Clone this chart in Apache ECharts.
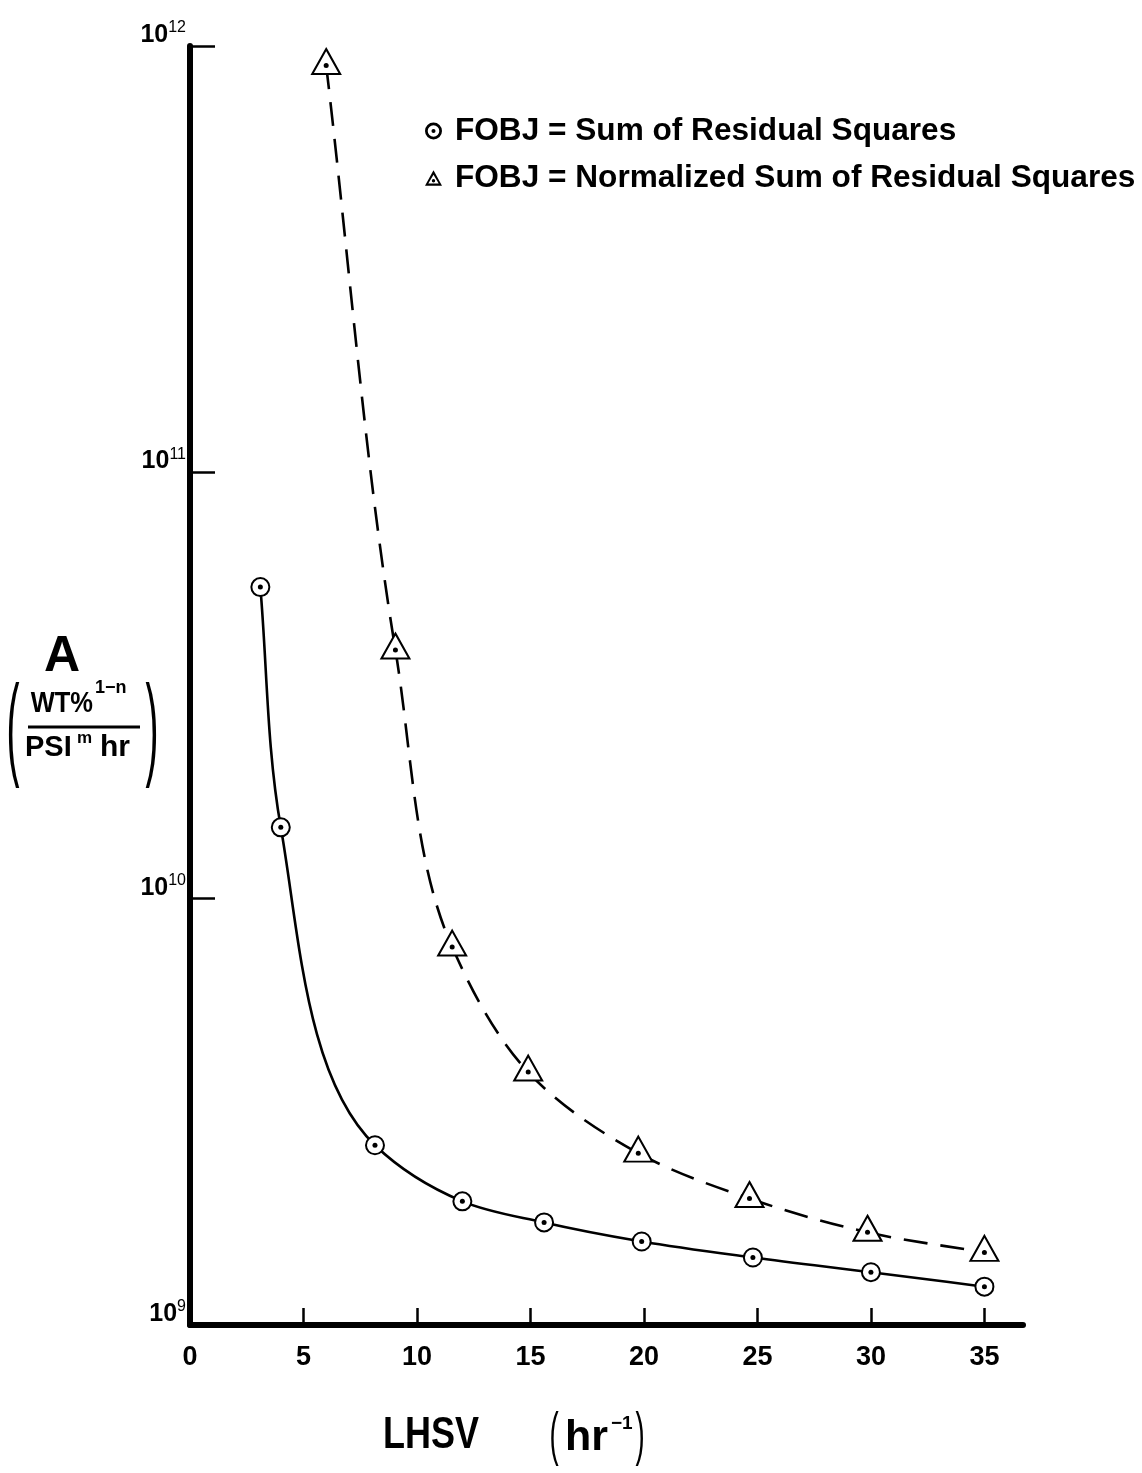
<!DOCTYPE html>
<html><head><meta charset="utf-8">
<script src="https://cdn.jsdelivr.net/npm/echarts@6.0.0/dist/echarts.min.js"></script>
<style>html,body{margin:0;padding:0;background:#fff}#c{width:1142px;height:1473px}</style>
</head><body><div id="c"></div>
<script>
// ---- data ----
const xTickValues = [5, 10, 15, 20, 25, 30, 35];
const xLabelValues = [0, 5, 10, 15, 20, 25, 30, 35];
const sumX = [3.1, 4.0, 8.15, 12.0, 15.6, 19.9, 24.8, 30.0, 35.0];
const sumY = [5.38e10, 1.47e10, 2.64e9, 1.95e9, 1.74e9, 1.57e9, 1.44e9, 1.33e9, 1.23e9];
const normX = [6.0, 9.05, 11.55, 14.9, 19.75, 24.65, 29.85, 35.0];
const normY = [9.0e11, 3.83e10, 7.7e9, 3.92e9, 2.53e9, 1.98e9, 1.65e9, 1.48e9];
const seriesNames = ['FOBJ = Sum of Residual Squares', 'FOBJ = Normalized Sum of Residual Squares'];

const F = 'Liberation Sans, Arial, sans-serif';
const pairs = (xs, ys) => xs.map((x, i) => [x, ys[i]]);
const ringIcon = 'path://M10 0A10 10 0 1 1 10 20A10 10 0 1 1 10 0ZM10 3.2A6.8 6.8 0 1 0 10 16.8A6.8 6.8 0 1 0 10 3.2ZM10 7.6A2.4 2.4 0 1 1 10 12.4A2.4 2.4 0 1 1 10 7.6Z';
const triIcon = 'path://M10 0L20 18L0 18ZM10 5.2L3.9 15.6L16.1 15.6ZM10 10.2A2 2 0 1 1 10 14.2A2 2 0 1 1 10 10.2Z';

// non-uniform Catmull-Rom spline (drawn in pixel space through the library's coordinates)
function crSegments(pts, alpha) {
  const segs = [];
  const n = pts.length;
  const dist = (a, b) => Math.max(1e-6, Math.pow(Math.hypot(b[0] - a[0], b[1] - a[1]), alpha));
  for (let i = 0; i < n - 1; i++) {
    const p1 = pts[i], p2 = pts[i + 1];
    const p0 = i > 0 ? pts[i - 1] : [2 * p1[0] - p2[0], 2 * p1[1] - p2[1]];
    const p3 = i + 2 < n ? pts[i + 2] : [2 * p2[0] - p1[0], 2 * p2[1] - p1[1]];
    const d1 = dist(p0, p1), d2 = dist(p1, p2), d3 = dist(p2, p3);
    const c1 = [0, 1].map(k => (d1 * d1 * p2[k] - d2 * d2 * p0[k] + (2 * d1 * d1 + 3 * d1 * d2 + d2 * d2) * p1[k]) / (3 * d1 * (d1 + d2)));
    const c2 = [0, 1].map(k => (d3 * d3 * p1[k] - d2 * d2 * p3[k] + (2 * d3 * d3 + 3 * d3 * d2 + d2 * d2) * p2[k]) / (3 * d3 * (d3 + d2)));
    segs.push({x1: p1[0], y1: p1[1], cpx1: c1[0], cpy1: c1[1], cpx2: c2[0], cpy2: c2[1], x2: p2[0], y2: p2[1]});
  }
  return segs;
}
function curveRenderer(dash) {
  return function (params, api) {
    if (params.dataIndexInside !== 0) return null;
    const n = params.dataInsideLength;
    const pts = [];
    for (let i = 0; i < n; i++) pts.push(api.coord([api.value(0, i), api.value(1, i)]));
    return {
      type: 'group',
      children: crSegments(pts, 0.9).map(s => ({
        type: 'bezierCurve', shape: s,
        style: {stroke: '#000', lineWidth: 2.6, fill: 'none', lineDash: dash}
      }))
    };
  };
}

const chart = echarts.init(document.getElementById('c'), null, {renderer: 'canvas'});
chart.setOption({
  backgroundColor: '#fff',
  animation: false,
  grid: {left: 190, right: 119, top: 46, bottom: 148},
  legend: {
    orient: 'vertical', left: 420, top: 110, itemGap: 15,
    itemWidth: 17, itemHeight: 17, selectedMode: false,
    textStyle: {fontSize: 31.6, fontWeight: 'bold', fontFamily: F, color: '#000', padding: [0, 0, 0, 8]},
    data: [
      {name: seriesNames[0], icon: ringIcon, itemStyle: {color: '#000', borderWidth: 0, opacity: 1}},
      {name: seriesNames[1], icon: triIcon, itemStyle: {color: '#000', borderWidth: 0, opacity: 1}}
    ]
  },
  xAxis: {
    type: 'value', min: 0, max: 36.7, interval: 5,
    axisLine: {lineStyle: {color: '#000', width: 6}},
    axisTick: {inside: true, length: 17, customValues: xTickValues, lineStyle: {color: '#000', width: 2.5}},
    axisLabel: {customValues: xLabelValues, fontSize: 27, fontWeight: 'bold', fontFamily: F, color: '#000', margin: 19},
    splitLine: {show: false}
  },
  yAxis: {
    type: 'log', logBase: 10, min: 1e9, max: 1e12,
    axisLine: {lineStyle: {color: '#000', width: 6}},
    axisTick: {inside: true, length: 25, lineStyle: {color: '#000', width: 2.5}},
    minorTick: {show: false},
    splitLine: {show: false},
    axisLabel: {
      margin: 4, verticalAlign: 'bottom',
      formatter: v => '{b|10}{s|' + Math.round(Math.log10(v)) + '}',
      rich: {
        b: {fontSize: 25, fontWeight: 'bold', fontFamily: F, color: '#000', lineHeight: 22},
        s: {fontSize: 16, fontFamily: F, color: '#000', lineHeight: 16, padding: [0, 0, 14, 0]}
      }
    }
  },
  series: [
    {
      name: 'sumCurve', type: 'custom', data: pairs(sumX, sumY), z: 2, silent: true,
      renderItem: curveRenderer(null)
    },
    {
      name: 'normCurve', type: 'custom', data: pairs(normX, normY), z: 2, silent: true,
      renderItem: curveRenderer([24, 13])
    },
    {
      name: seriesNames[0], type: 'scatter', data: pairs(sumX, sumY),
      symbol: 'emptyCircle', symbolSize: 18, z: 3,
      itemStyle: {color: '#000', borderWidth: 2.6, opacity: 1}
    },
    {
      name: seriesNames[1], type: 'scatter', data: pairs(normX, normY),
      symbol: 'emptyTriangle', symbolSize: [28, 25], symbolOffset: [0, -4], z: 3,
      itemStyle: {color: '#000', borderWidth: 2.6, opacity: 1}
    },
    {
      name: 'sumDots', type: 'scatter', data: pairs(sumX, sumY), symbol: 'circle', symbolSize: 5,
      itemStyle: {color: '#000', opacity: 1}, z: 4, silent: true
    },
    {
      name: 'normDots', type: 'scatter', data: pairs(normX, normY), symbol: 'circle', symbolSize: 5,
      itemStyle: {color: '#000', opacity: 1}, z: 4, silent: true
    }
  ],
  graphic: [
    {type: 'text', x: 62, y: 657, style: {text: 'A', fontSize: 50, fontWeight: 'bold', fontFamily: F, fill: '#000', align: 'center', verticalAlign: 'middle'}},
    {type: 'text', x: 93, y: 704, scaleX: 0.88, style: {text: 'WT%', fontSize: 29, fontWeight: 'bold', fontFamily: F, fill: '#000', align: 'right', verticalAlign: 'middle'}},
    {type: 'text', x: 95, y: 688, style: {text: '1−n', fontSize: 18, fontWeight: 'bold', fontFamily: F, fill: '#000', align: 'left', verticalAlign: 'middle'}},
    {type: 'line', shape: {x1: 28, y1: 727, x2: 140, y2: 727}, style: {stroke: '#000', lineWidth: 3}},
    {type: 'text', x: 25, y: 748, style: {text: 'PSI', fontSize: 29, fontWeight: 'bold', fontFamily: F, fill: '#000', align: 'left', verticalAlign: 'middle'}},
    {type: 'text', x: 77, y: 738, style: {text: 'm', fontSize: 17, fontWeight: 'bold', fontFamily: F, fill: '#000', align: 'left', verticalAlign: 'middle'}},
    {type: 'text', x: 100, y: 748, style: {text: 'hr', fontSize: 30, fontWeight: 'bold', fontFamily: F, fill: '#000', align: 'left', verticalAlign: 'middle'}},
    {type: 'text', x: 13, y: 733, scaleX: 0.5, scaleY: 1.45, style: {text: '(', fontSize: 78, fontFamily: F, fill: '#000', align: 'center', verticalAlign: 'middle'}},
    {type: 'text', x: 152, y: 733, scaleX: 0.5, scaleY: 1.45, style: {text: ')', fontSize: 78, fontFamily: F, fill: '#000', align: 'center', verticalAlign: 'middle'}},
    {type: 'text', x: 431, y: 1436, scaleX: 0.8, style: {text: 'LHSV', fontSize: 45, fontWeight: 'bold', fontFamily: F, fill: '#000', align: 'center', verticalAlign: 'middle'}},
    {type: 'text', x: 554, y: 1438, scaleX: 0.6, scaleY: 1.3, style: {text: '(', fontSize: 46, fontFamily: F, fill: '#000', align: 'center', verticalAlign: 'middle'}},
    {type: 'text', x: 565, y: 1438, style: {text: 'hr', fontSize: 43, fontWeight: 'bold', fontFamily: F, fill: '#000', align: 'left', verticalAlign: 'middle'}},
    {type: 'text', x: 611, y: 1424, style: {text: '−1', fontSize: 19, fontWeight: 'bold', fontFamily: F, fill: '#000', align: 'left', verticalAlign: 'middle'}},
    {type: 'text', x: 640, y: 1438, scaleX: 0.6, scaleY: 1.3, style: {text: ')', fontSize: 46, fontFamily: F, fill: '#000', align: 'center', verticalAlign: 'middle'}}
  ]
});
</script>
</body></html>
